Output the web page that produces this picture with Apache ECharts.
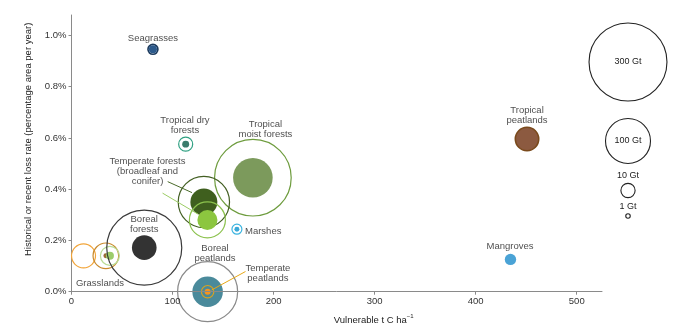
<!DOCTYPE html>
<html><head><meta charset="utf-8">
<script src="https://cdn.jsdelivr.net/npm/echarts@6/dist/echarts.min.js"></script>
<style>html,body{margin:0;padding:0;background:#fff}#c{width:681px;height:335px}</style>
</head><body><div id="c"></div>
<script>
// ---- data ----
const ecosystems = ['Grasslands A','Grasslands B','Grasslands C','Boreal forests','Tropical moist forests','Temperate conifer forests','Temperate broadleaf forests','Tropical dry forests','Seagrasses','Marshes','Boreal peatlands','Temperate peatlands','Tropical peatlands','Mangroves'];
const vulnerableC = [11.9, 34, 38, 72, 179.5, 131, 134.5, 113, 80.6, 163.7, 134.7, 134.7, 450.8, 434.4];
const lossRate = [0.140, 0.140, 0.140, 0.172, 0.445, 0.350, 0.280, 0.576, 0.946, 0.244, 0.0, 0.0, 0.596, 0.126];
const outerGt = [28.4, 32.4, 17.8, 278, 290, 130, 64, 9.7, 4.9, 4.9, 178, 7.6, 27, 0];
const innerGt = [0, 1.2, 3.2, 30, 77.4, 36, 19.8, 2.4, 3.2, 1.2, 46, 1.8, 27, 6.4];
const ringColors = ['#f2a53a','#c98b2e','#b9dc95','#3a3a3a','#6e9c3e','#435f23','#8cc24e','#2fa082','#1c3a5c','#3ab4e0','#8a8a8a','#d9a21f','#7a4a1c','#4aa3d6'];
const fillColors = ['#f2a53a','#9a6a35','#9ccc6a','#333333','#7c9a5c','#3f5f1e','#8cc63f','#3b7b6b','#2c5a8c','#39a9d8','#4a8a9b','#f7941d','#8c5a40','#4aa3d6'];
const xTicks = [0, 100, 200, 300, 400, 500];
const yTicks = [0, 0.2, 0.4, 0.6, 0.8, 1.0];
const legendGt = [300, 100, 10, 1];
// labels: text, anchor x, anchor y, align
const labelTexts = ['Seagrasses','Tropical dry\nforests','Tropical\nmoist forests','Temperate forests\n(broadleaf and\nconifer)','Marshes','Boreal\nforests','Grasslands','Boreal\npeatlands','Temperate\npeatlands','Tropical\npeatlands','Mangroves'];
const labelX = [80.6, 112.3, 191.9, 75.2, 171.7, 72, 28.2, 142, 194.4, 450.8, 434];
const labelY = [0.989, 0.648, 0.634, 0.469, 0.237, 0.261, 0.033, 0.151, 0.072, 0.688, 0.175];
const labelAlign = ['center','center','center','center','left','center','center','center','center','center','center'];
// leader lines [x1,y1,x2,y2]
const leaderLines = [[95.2,0.4296,119.3,0.3867],[90.1,0.3848,125.2,0.3029],[138.7,0.0066,172.2,0.0788]];
const leaderColors = ['#4a6a2a','#9ccc65','#e8a817'];

// ---- build ----
const FONT = 'Liberation Sans, Arial, Helvetica, sans-serif';
const diam = gt => 4.5 * Math.sqrt(gt);
const bubbleData = [];
ecosystems.forEach((n, i) => {
  if (outerGt[i] > 0) {
    bubbleData.push({ name: n, value: [vulnerableC[i], lossRate[i]], symbolSize: diam(outerGt[i]),
      itemStyle: { opacity: 1, color: (n === 'Tropical peatlands') ? fillColors[i] : 'rgba(0,0,0,0)', borderColor: ringColors[i], borderWidth: (n === 'Seagrasses' || n === 'Tropical peatlands') ? 1.6 : 1.2 } });
  }
  if (innerGt[i] > 0 && n !== 'Tropical peatlands') {
    bubbleData.push({ name: n, value: [vulnerableC[i], lossRate[i]], symbolSize: diam(innerGt[i]),
      itemStyle: { opacity: 1, color: fillColors[i], borderWidth: 0 } });
  }
});
const labelData = labelTexts.map((t, i) => ({ name: t, value: [labelX[i], labelY[i]],
  label: { align: labelAlign[i] } }));

const series = [
  { type: 'scatter', data: bubbleData, symbol: 'circle', z: 3, silent: true, animation: false, itemStyle: { opacity: 1 } }
];
leaderLines.forEach((l, i) => series.push({
  type: 'line', data: [[l[0], l[1]], [l[2], l[3]]], symbol: 'none', z: 4, silent: true, animation: false,
  lineStyle: { color: leaderColors[i], width: 1 }
}));
series.push({ type: 'scatter', data: labelData, symbolSize: 0, z: 5, silent: true, animation: false,
  label: { show: true, position: 'inside', formatter: p => p.name, color: '#222', fontSize: 9.5, lineHeight: 10, fontFamily: FONT, verticalAlign: 'middle' } });

const legendGraphics = [];
const legendCY = [62, 141, 190.5, 216];
const legendTY = [62, 141, 175.5, 206.5];
legendGt.forEach((g, i) => {
  legendGraphics.push({ type: 'circle', shape: { cx: 628, cy: legendCY[i], r: diam(g) / 2 }, style: { fill: 'none', stroke: '#222', lineWidth: 1.1 } });
  legendGraphics.push({ type: 'text', x: 628, y: legendTY[i], style: { text: g + ' Gt', fill: '#222', font: '9px ' + FONT, textAlign: 'center', textVerticalAlign: 'middle' } });
});

const chart = echarts.init(document.getElementById('c'), null, { renderer: 'canvas' });
chart.setOption({
  animation: false,
  grid: { left: 71.5, right: 79, top: 15, bottom: 43.3 },
  xAxis: {
    type: 'value', min: 0, max: 525, interval: 100, z: 10,
    name: '{a|Vulnerable t C ha}{s|−1}', nameLocation: 'middle', nameGap: 22,
    nameTextStyle: { padding: [0, 0, 0, 74], rich: { a: { fontSize: 9.5, fontFamily: FONT, color: '#222', verticalAlign: 'bottom', lineHeight: 12 }, s: { fontSize: 6, fontFamily: FONT, color: '#222', verticalAlign: 'top', lineHeight: 12 } } },
    axisLine: { lineStyle: { color: '#8a8a8a', width: 1 } },
    axisTick: { show: true, length: 3, customValues: xTicks, lineStyle: { color: '#8a8a8a' } },
    axisLabel: { customValues: xTicks, color: '#333', fontSize: 9.5, fontFamily: FONT, margin: 5 },
    splitLine: { show: false }
  },
  yAxis: {
    type: 'value', min: 0, max: 1.08, interval: 0.2,
    name: 'Historical or recent loss rate (percentage area per year)', nameLocation: 'middle', nameGap: 38,
    nameTextStyle: { color: '#222', fontSize: 9.5, fontFamily: FONT, padding: [0, 0, 0, 28] },
    axisLine: { show: true, lineStyle: { color: '#8a8a8a', width: 1 } },
    axisTick: { show: true, length: 3, customValues: yTicks, lineStyle: { color: '#8a8a8a' } },
    axisLabel: { customValues: yTicks, color: '#333', fontSize: 9.5, fontFamily: FONT, margin: 5, formatter: v => v.toFixed(1) + '%' },
    splitLine: { show: false }
  },
  graphic: legendGraphics,
  series: series
});
</script></body></html>
